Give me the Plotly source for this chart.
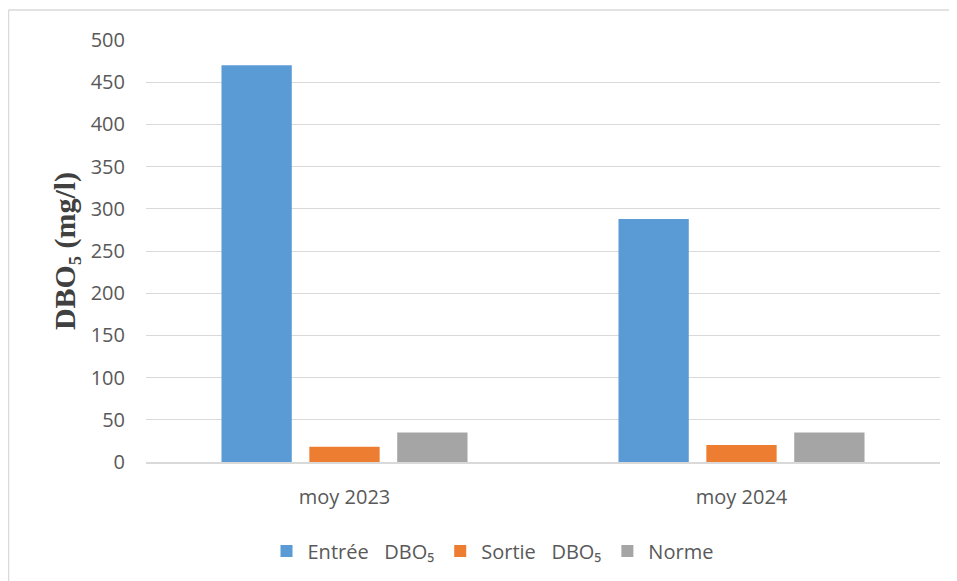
import plotly.graph_objects as go

categories = ["moy 2023", "moy 2024"]
entree = [470, 288]
sortie = [18, 20]
norme = [35, 35]
series_names = ["Entrée   DBO₅", "Sortie   DBO₅", "Norme"]
colors = ["#5B9BD5", "#ED7D31", "#A5A5A5"]
y_ticks = [0, 50, 100, 150, 200, 250, 300, 350, 400, 450, 500]

# the page body has an 8px margin, so the figure is drawn 8px right/down
OFF = 8
W, H = 957 - OFF, 581 - OFF
L, R, T, B = 146 - OFF, 17, 40 - OFF, 118
pw, ph = W - L - R, H - T - B

def px(x):  # page pixel -> paper x
    return (x - OFF - L) / pw

def py(y):  # page pixel -> paper y
    return (H - B - (y - OFF)) / ph

fig = go.Figure()
for name, vals, col in zip(series_names, [entree, sortie, norme], colors):
    fig.add_trace(go.Bar(x=categories, y=vals, name=name, marker=dict(color=col, line=dict(width=0))))

fig.update_layout(
    width=W, height=H,
    margin=dict(l=L, r=R, t=T, b=B),
    paper_bgcolor="white", plot_bgcolor="white",
    barmode="group", bargap=0.336, bargroupgap=0.2,
    font=dict(family="Open Sans, Liberation Sans", size=19, color="#595959"),
    legend=dict(orientation="h", x=px(492), xanchor="center", y=py(551), yanchor="middle",
                font=dict(size=20, color="#595959"), itemwidth=32),
    showlegend=True,
)
fig.update_xaxes(showgrid=False, showline=True, linecolor="#D9D9D9", linewidth=1.5,
                 ticks="", ticklabelstandoff=16, tickfont=dict(size=20, color="#595959"))
fig.update_yaxes(range=[0, 500], tickvals=y_ticks, showgrid=True, gridcolor="#D9D9D9", gridwidth=1,
                 zeroline=False, showline=False, ticks="", ticklabelstandoff=20,
                 tickfont=dict(size=20, color="#595959"),
                 title=dict(text="<b>DBO₅ (mg/l)</b>", standoff=6,
                            font=dict(family="Liberation Serif, Times New Roman", size=30, color="#404040")))

# outer chart border (top and left)
fig.add_shape(type="line", xref="paper", yref="paper", x0=px(8.5), x1=px(970), y0=py(10), y1=py(10),
              line=dict(color="#D9D9D9", width=1.5))
fig.add_shape(type="line", xref="paper", yref="paper", x0=px(8.5), x1=px(8.5), y0=py(10), y1=py(600),
              line=dict(color="#D9D9D9", width=1.5))

fig.write_html("out.html")
